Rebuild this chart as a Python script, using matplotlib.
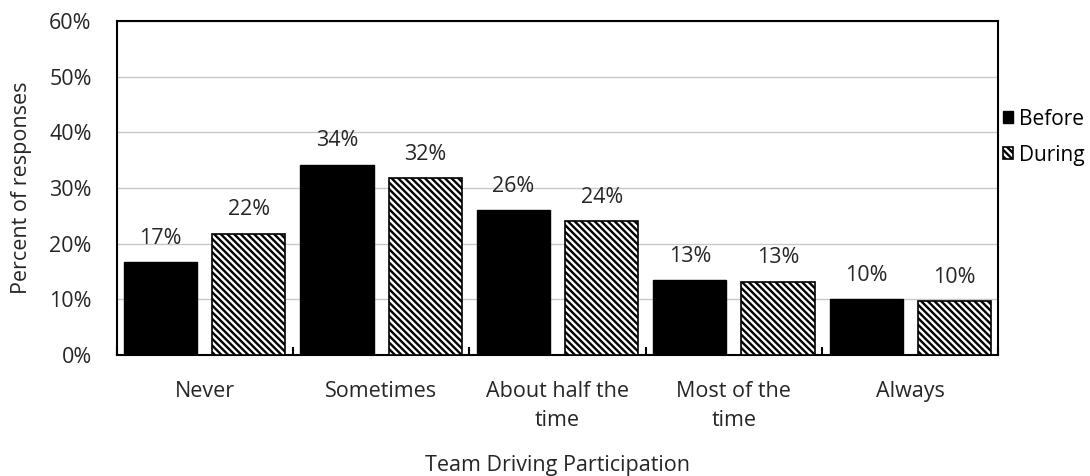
import matplotlib
matplotlib.use("Agg")
import matplotlib.pyplot as plt
import numpy as np

categories = ["Never", "Sometimes", "About half the\ntime", "Most of the\ntime", "Always"]
before = [16.7, 34.2, 26.0, 13.4, 10.0]
during = [21.8, 31.8, 24.0, 13.2, 9.7]
series_names = ["Before", "During"]
yticks = [0, 10, 20, 30, 40, 50, 60]

plt.rcParams['font.family'] = ['Open Sans', 'DejaVu Sans']
plt.rcParams['hatch.linewidth'] = 1.7

FS = 15.5
TXT = '#262626'

fig = plt.figure(figsize=(10.9, 4.76), dpi=100)
ax = fig.add_axes([0.107, 0.254, 0.809, 0.702])

x = np.arange(len(categories))
w = 0.415
off = 0.25
b1 = ax.bar(x - off, before, w, color='black', edgecolor='black', linewidth=1, label=series_names[0], zorder=3)
b2 = ax.bar(x + off, during, w, color='white', edgecolor='black', hatch='\\' * 5, linewidth=1.2, label=series_names[1], zorder=3)

for bars, vals in ((b1, before), (b2, during)):
    for r, v in zip(bars, vals):
        ax.text(r.get_x() + r.get_width() / 2, v + 3.3, f"{round(v)}%", ha='center', va='baseline', fontsize=FS, color=TXT)

ax.set_xlim(-0.5, len(categories) - 0.5)
ax.set_ylim(0, 60)
ax.set_yticks(yticks)
ax.set_yticklabels([f"{t}%" for t in yticks], fontsize=FS, color=TXT)
ax.yaxis.grid(True, color='#c8c8c8', linewidth=1, zorder=0)
ax.tick_params(axis='y', length=0, pad=18)

ax.set_xticks(x)
ax.set_xticklabels(categories, fontsize=FS, linespacing=1.5, color=TXT)
ax.set_xticks(np.arange(-0.5, len(categories) + 0.5, 1), minor=True)
ax.tick_params(axis='x', which='major', length=0, pad=19)
ax.tick_params(axis='x', which='minor', direction='in', length=6, width=1.5)

for s in ax.spines.values():
    s.set_linewidth(1.5)
    s.set_color('black')

ax.set_ylabel("Percent of responses", fontsize=FS, labelpad=12, color=TXT)
ax.set_xlabel("Team Driving Participation", fontsize=FS, labelpad=17, color=TXT)

ax.legend(loc='center left', bbox_to_anchor=(1.0, 0.652), frameon=False, fontsize=15,
          handlelength=0.5, handleheight=0.5, handletextpad=0.3, labelspacing=0.72,
          borderaxespad=0.0, borderpad=0.2)

fig.savefig("out.png", dpi=100)
